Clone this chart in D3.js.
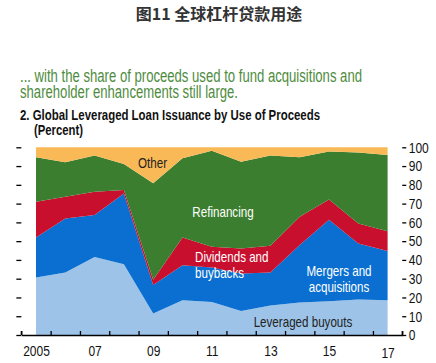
<!DOCTYPE html>
<html>
<head>
<meta charset="utf-8">
<script src="https://cdn.jsdelivr.net/npm/d3@7"></script>
<style>
  body { margin: 0; background: #fff; }
  svg { display: block; }
  text { font-family: "Liberation Sans", Arial, sans-serif; }
</style>
</head>
<body>
<div id="chart"></div>
<script>
// years and tick labels
var years = [2005, 2006, 2007, 2008, 2009, 2010, 2011, 2012, 2013, 2014, 2015, 2016, 2017];
var yearLabels = ["2005", "07", "09", "11", "13", "15", "17"];

// shares of proceeds, percent
var leveragedBuyouts = [30.6, 33.3, 41.6, 37.7, 11.4, 18.5, 17.6, 12.8, 15.7, 17.3, 18.0, 18.9, 18.5];
var mergersAcq       = [21.4, 28.8, 22.3, 37.7, 15.3, 18.7, 18.4, 19.9, 17.6, 30.6, 43.4, 29.9, 26.3];
var dividends        = [19.0, 11.6, 12.4, 1.8, 2.7, 14.8, 11.0, 13.4, 14.3, 15.1, 10.8, 10.6, 10.5];
var refinancing      = [23.7, 18.3, 19.3, 13.9, 51.4, 42.1, 51.2, 46.2, 48.0, 31.7, 25.5, 37.8, 40.6];
var other            = [5.3, 8.0, 4.4, 8.9, 19.2, 5.9, 1.8, 7.7, 4.4, 5.3, 2.3, 2.8, 4.1];

var keys = ["lbo", "ma", "div", "refi", "other"];
var colors = {lbo: "#9dc4e8", ma: "#0a6fd0", div: "#c8102e", refi: "#3b7e2f", other: "#fab957"};

// table for the stack
var table = years.map(function(yr, i) {
    return {year: yr, lbo: leveragedBuyouts[i], ma: mergersAcq[i], div: dividends[i],
            refi: refinancing[i], other: other[i]};
});

// squeeze text like a narrow typeface
function condense(sel, k) {
    sel.each(function() {
        var w = this.getComputedTextLength();
        d3.select(this).attr("textLength", w * k).attr("lengthAdjust", "spacingAndGlyphs");
    });
}

var W = 436, H = 363;
var svg = d3.select("#chart").append("svg").attr("width", W).attr("height", H);

// headings
svg.append("text")
    .attr("x", 219).attr("y", 20)
    .attr("text-anchor", "middle")
    .style("font-family", "'Noto Sans CJK SC', sans-serif")
    .style("font-weight", "bold").style("font-size", "16px")
    .attr("fill", "#333")
    .text("图11 全球杠杆贷款用途");

var sub = svg.append("text").attr("fill", "#4e8b3e").style("font-size", "17.5px");
sub.append("tspan").attr("x", 20).attr("y", 81.5).attr("textLength", 342).attr("lengthAdjust", "spacingAndGlyphs")
    .text("... with the share of proceeds used to fund acquisitions and");
sub.append("tspan").attr("x", 20).attr("y", 97.5).attr("textLength", 218).attr("lengthAdjust", "spacingAndGlyphs")
    .text("shareholder enhancements still large.");

var ttl = svg.append("text").attr("fill", "#111").style("font-size", "14px").style("font-weight", "bold");
ttl.append("tspan").attr("x", 20).attr("y", 120).attr("textLength", 300).attr("lengthAdjust", "spacingAndGlyphs")
    .text("2. Global Leveraged Loan Issuance by Use of Proceeds");
ttl.append("tspan").attr("x", 34).attr("y", 135).attr("textLength", 49).attr("lengthAdjust", "spacingAndGlyphs")
    .text("(Percent)");

// scales
var x = d3.scaleLinear().domain([2005, 2017]).range([36, 387.6]);
var y = d3.scaleLinear().domain([0, 100]).range([335, 147.3]);

var stack = d3.stack().keys(keys);
var series = stack(table);

var area = d3.area()
    .x(function(d) { return x(d.data.year); })
    .y0(function(d) { return y(d[0]); })
    .y1(function(d) { return y(d[1]); });

svg.append("g").selectAll("path")
    .data(series)
  .enter().append("path")
    .attr("d", area)
    .attr("fill", function(d) { return colors[d.key]; });

// axes
var xAxisScale = x.copy().domain([2004.5, 2017.5]).range([x(2004.5), x(2017.5)]);

var bottom = svg.append("g")
    .attr("transform", "translate(0," + y(0) + ")")
    .call(d3.axisBottom(xAxisScale)
        .tickValues(d3.range(2004.5, 2018, 1))
        .tickSizeInner(-4).tickSizeOuter(0)
        .tickFormat(""));
bottom.selectAll("line, path").attr("stroke", "#000").attr("stroke-width", 1.3);

var labels = svg.append("g")
    .attr("transform", "translate(0," + y(0) + ")")
    .call(d3.axisBottom(x)
        .tickValues(d3.range(2005, 2018, 2))
        .tickSize(0).tickPadding(10.5)
        .tickFormat(function(d, i) { return yearLabels[i]; }));
labels.select(".domain").remove();
labels.selectAll("text")
    .style("font-family", "'Liberation Sans', Arial, sans-serif")
    .style("font-size", "15px").attr("fill", "#111");
labels.selectAll("text").filter(function(d) { return d === 2017; }).attr("y", 12.5);
condense(labels.selectAll("text"), 0.8);

var left = svg.append("g")
    .attr("transform", "translate(" + xAxisScale(2004.5) + ",0)")
    .call(d3.axisLeft(y).tickValues(d3.range(0, 101, 10)).tickSize(5).tickFormat(""));
left.select(".domain").remove();
left.selectAll("line").attr("stroke", "#000").attr("stroke-width", 1.3);

var right = svg.append("g")
    .attr("transform", "translate(" + xAxisScale(2017.5) + ",0)")
    .call(d3.axisRight(y).tickValues(d3.range(0, 101, 10)).tickSize(4).tickPadding(2.5));
right.select(".domain").remove();
right.selectAll("line").attr("stroke", "#000").attr("stroke-width", 1.3);
right.selectAll("text")
    .style("font-family", "'Liberation Sans', Arial, sans-serif")
    .style("font-size", "15px").attr("fill", "#111");
condense(right.selectAll("text"), 0.8);

// end ticks of the base line
svg.append("g").selectAll("line")
    .data([2004.5, 2017.5])
  .enter().append("line")
    .attr("x1", function(d) { return xAxisScale(d); })
    .attr("x2", function(d) { return xAxisScale(d); })
    .attr("y1", y(0)).attr("y2", y(0) - 4)
    .attr("stroke", "#000").attr("stroke-width", 1.3);

// series labels
var notes = [
    {t: ["Other"], x: 152.5, y: 168, c: "#222", a: "middle"},
    {t: ["Refinancing"], x: 223, y: 216.5, c: "#fff", a: "middle"},
    {t: ["Dividends and", "buybacks"], x: 195, y: 262, c: "#fff", a: "start"},
    {t: ["Mergers and", "acquisitions"], x: 339, y: 275.5, c: "#fff", a: "middle"},
    {t: ["Leveraged buyouts"], x: 303, y: 327, c: "#222", a: "middle"}
];
notes.forEach(function(n) {
    var t = svg.append("text").attr("fill", n.c).attr("text-anchor", n.a).style("font-size", "14.5px");
    n.t.forEach(function(line, i) {
        t.append("tspan").attr("x", n.x).attr("y", n.y + i * 16).text(line);
    });
    condense(t.selectAll("tspan"), 0.8);
});
</script>
</body>
</html>
